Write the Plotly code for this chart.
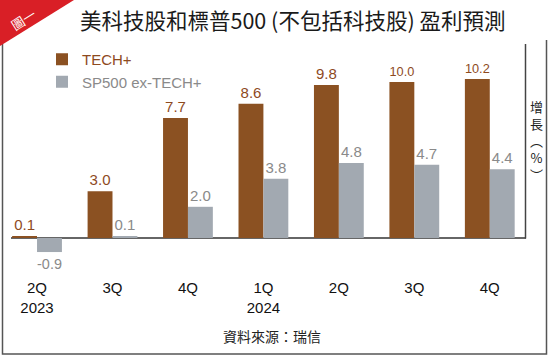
import plotly.graph_objects as go

categories = ["2Q 2023", "3Q 2023", "4Q 2023", "1Q 2024", "2Q 2024", "3Q 2024", "4Q 2024"]
tick_labels = ["2Q<br>2023", "3Q", "4Q", "1Q<br>2024", "2Q", "3Q", "4Q"]
tech_plus = [0.1, 3.0, 7.7, 8.6, 9.8, 10.0, 10.2]
sp500_ex_tech = [-0.9, 0.1, 2.0, 3.8, 4.8, 4.7, 4.4]

title_text = "美科技股和標普500 (不包括科技股) 盈利預測"
source_text = "資料來源：瑞信"
y_title = "增<br>長<br>︵<br>%<br>︶"

BROWN = "#8B5122"
BROWN_TXT = "#8E4A1E"
GRAY = "#A2A9B1"
GRAY_TXT = "#8A8A8A"
LINE = "#555555"

W, H = 550, 357
PL, PR, PT, PB = 11, 526, 44, 260  # plot area in pixels
BASE = 238                          # pixel row of the zero line
X_RANGE = [-0.345, 6.48]
Y_RANGE = [-(PB - BASE) / 15.6, (BASE - PT) / 15.6]


def px(x):
    return (x - PL) / (PR - PL)


def py(y):
    return (PB - y) / (PB - PT)


x_idx = list(range(len(categories)))

fig = go.Figure()
fig.add_trace(go.Bar(
    x=x_idx, y=tech_plus, name='<span style="color:%s">TECH+</span>' % BROWN_TXT,
    marker=dict(color=BROWN, line=dict(width=0)),
    text=[f"{v:.1f}" for v in tech_plus], textposition="outside",
    textfont=dict(color=BROWN_TXT, size=15, family="Liberation Sans"),
    cliponaxis=False,
))
fig.add_trace(go.Bar(
    x=x_idx, y=sp500_ex_tech, name='<span style="color:%s">SP500 ex-TECH+</span>' % GRAY_TXT,
    marker=dict(color=GRAY, line=dict(width=0)),
    text=[f"{v:.1f}" for v in sp500_ex_tech], textposition="outside",
    textfont=dict(color=GRAY_TXT, size=15, family="Liberation Sans"),
    cliponaxis=False,
))

fig.update_layout(
    width=W, height=H,
    margin=dict(l=PL, r=W - PR, t=PT, b=H - PB, pad=0),
    paper_bgcolor="white", plot_bgcolor="rgba(0,0,0,0)",
    barmode="group", bargap=0.34, bargroupgap=0,
    showlegend=True,
    legend=dict(x=px(42), y=py(43), xanchor="left", yanchor="top",
                font=dict(size=15, family="Liberation Sans"),
                bgcolor="rgba(0,0,0,0)", tracegroupgap=0, itemsizing="constant"),
    font=dict(family="Liberation Sans, Noto Sans CJK TC", color="#111111"),
)
fig.update_xaxes(
    range=X_RANGE, tickmode="array", tickvals=x_idx, ticktext=tick_labels,
    showline=False, showgrid=False, zeroline=False, ticks="",
    tickfont=dict(size=15, color="#111111", family="Liberation Sans"),
    ticklabelstandoff=17,
)
fig.update_yaxes(
    range=Y_RANGE, showticklabels=False,
    showgrid=False, zeroline=True, zerolinecolor="#666666", zerolinewidth=1.5,
    showline=False, ticks="",
)

shapes = []
# right axis line, from the zero line up to the top of the plot
shapes.append(dict(type="line", xref="paper", yref="paper", layer="above",
                   x0=px(525.5), x1=px(525.5), y0=py(238.5), y1=py(44),
                   line=dict(color="#444444", width=1.5)))
# frame: left, bottom, right
shapes.append(dict(type="path", xref="paper", yref="paper", layer="above",
                   path="M %f %f L %f %f L %f %f L %f %f" % (
                       px(2.5), py(44), px(2.5), py(354), px(546.5), py(354), px(546.5), py(40)),
                   line=dict(color=LINE, width=1.5)))
# red corner triangle
shapes.append(dict(type="path", xref="paper", yref="paper",
                   path="M %f %f L %f %f L %f %f Z" % (px(0), py(0), px(74), py(0), px(0), py(46)),
                   fillcolor="#D91F26", line=dict(width=0)))
fig.update_layout(shapes=shapes)

annotations = [
    dict(text=title_text, xref="paper", yref="paper", x=px(292), y=py(20),
         xanchor="center", yanchor="middle", showarrow=False,
         font=dict(size=21.5, family="Noto Sans CJK TC", color="#1a1a1a")),
    dict(text="圖一", xref="paper", yref="paper", x=px(23), y=py(19),
         xanchor="center", yanchor="middle", showarrow=False, textangle=-32,
         font=dict(size=13, family="Noto Sans CJK TC", color="white")),
    dict(text=y_title, xref="paper", yref="paper", x=px(536), y=py(140),
         xanchor="center", yanchor="middle", showarrow=False,
         font=dict(size=13, family="Noto Sans CJK TC", color="#222222")),
    dict(text=source_text, xref="paper", yref="paper", x=px(272), y=py(336),
         xanchor="center", yanchor="middle", showarrow=False,
         font=dict(size=14, family="Noto Sans CJK TC", color="#222222")),
]
fig.update_layout(annotations=annotations)

fig.write_html("out.html", config={"displayModeBar": False},
               post_script="document.body.style.margin='0px';document.body.style.overflow='hidden';")
